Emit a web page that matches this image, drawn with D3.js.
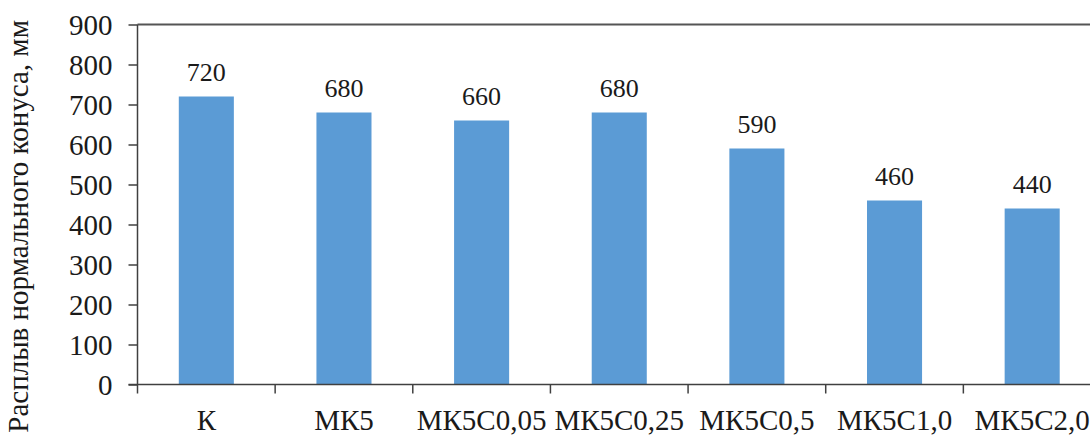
<!DOCTYPE html>
<html>
<head>
<meta charset="utf-8">
<script src="https://cdn.jsdelivr.net/npm/d3@7"></script>
<style>
  body { margin: 0; background: #fff; }
</style>
</head>
<body>
<div id="chart"></div>
<script>
  // Datos
  const categories = ['К', 'МК5', 'МК5С0,05', 'МК5С0,25', 'МК5С0,5', 'МК5С1,0', 'МК5С2,0']
  const values = [720, 680, 660, 680, 590, 460, 440]
  const yTicks = [0, 100, 200, 300, 400, 500, 600, 700, 800, 900]
  const yTitle = 'Расплыв нормального конуса, мм'

  const width = 1090, height = 438
  const margin = { top: 24.5, right: -11, bottom: 53.5, left: 137.5 }
  const FONT = '"Liberation Serif"'
  const INK = '#1a1a1a'

  const svg = d3.select('#chart').append('svg')
    .attr('width', width)
    .attr('height', height)

  const x = d3.scaleBand()
    .domain(categories)
    .range([margin.left, width - margin.right])
    .paddingInner(0.6)
    .paddingOuter(0.3)

  // bandas completas para las marcas del eje
  const xOuter = d3.scaleBand()
    .domain(categories)
    .range([margin.left, width - margin.right])

  const y = d3.scaleLinear()
    .domain([0, 900])
    .range([height - margin.bottom, margin.top])

  // linea superior
  svg.append('line')
    .attr('x1', margin.left).attr('x2', width)
    .attr('y1', y(900)).attr('y2', y(900))
    .attr('stroke', '#555').attr('stroke-width', 2)

  // barras
  svg.selectAll('.bar')
    .data(values)
    .join('rect')
    .attr('class', 'bar')
    .attr('x', (d, i) => x(categories[i]))
    .attr('y', d => y(d))
    .attr('width', x.bandwidth())
    .attr('height', d => y(0) - y(d))
    .attr('fill', '#5B9BD5')

  // etiquetas de valor
  svg.selectAll('.val')
    .data(values)
    .join('text')
    .attr('class', 'val')
    .attr('x', (d, i) => x(categories[i]) + x.bandwidth() / 2)
    .attr('y', d => y(d) - 16)
    .attr('text-anchor', 'middle')
    .style('font-family', FONT)
    .style('font-size', '26px')
    .style('fill', INK)
    .text(d => d)

  // eje Y
  const yAxis = svg.append('g')
    .attr('transform', `translate(${margin.left},0)`)
    .call(d3.axisLeft(y).tickValues(yTicks).tickSize(9).tickPadding(16))
  yAxis.attr('font-family', null)
  yAxis.selectAll('text')
    .attr('dy', '0.33em')
    .style('font-family', FONT)
    .style('font-size', '29px')
    .style('fill', INK)
  yAxis.selectAll('line, path').attr('stroke', '#404040').attr('stroke-width', 1.5)
  yAxis.select('.domain').attr('d', `M0,${y(900)}V${y(0)}`)

  // eje X
  const xAxis = svg.append('g')
    .attr('transform', `translate(0,${y(0)})`)
  xAxis.append('line')
    .attr('x1', margin.left - 9).attr('x2', width)
    .attr('stroke', '#404040').attr('stroke-width', 1.5)
  const edges = categories.map(c => xOuter(c)).concat([xOuter(categories[categories.length - 1]) + xOuter.bandwidth()])
  xAxis.selectAll('.tk')
    .data(edges)
    .join('line')
    .attr('class', 'tk')
    .attr('x1', d => d).attr('x2', d => d)
    .attr('y1', 0).attr('y2', 9)
    .attr('stroke', '#404040').attr('stroke-width', 1.5)
  xAxis.selectAll('.cat')
    .data(categories)
    .join('text')
    .attr('class', 'cat')
    .attr('x', d => xOuter(d) + xOuter.bandwidth() / 2)
    .attr('y', 45)
    .attr('text-anchor', 'middle')
    .style('font-family', FONT)
    .style('font-size', '29px')
    .style('fill', INK)
    .text(d => d)

  // titulo del eje Y
  svg.append('text')
    .attr('transform', `translate(28,20) rotate(-90)`)
    .attr('text-anchor', 'end')
    .style('font-family', FONT)
    .style('font-size', '29px')
    .style('fill', INK)
    .text(yTitle)
</script>
</body>
</html>
